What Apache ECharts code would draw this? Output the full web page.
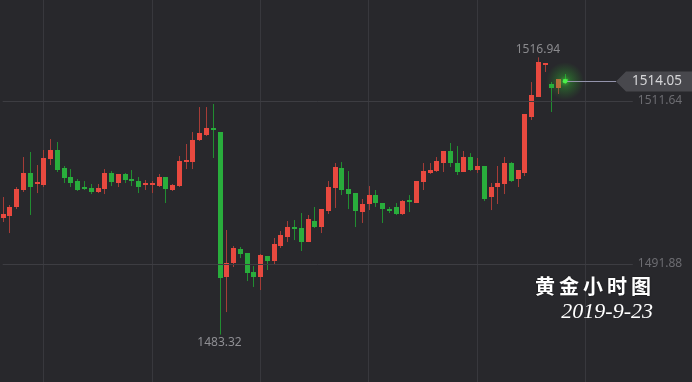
<!DOCTYPE html>
<html><head><meta charset="utf-8">
<script src="https://cdn.jsdelivr.net/npm/echarts@6/dist/echarts.min.js"></script>
<style>html,body{margin:0;padding:0;background:#28282c;}#c{width:692px;height:382px;}</style>
</head><body><div id="c"></div>
<script>
// ---- data (hourly gold candles) ----
const opens = [1497.45,1497.70,1498.79,1500.85,1502.91,1501.58,1501.45,1504.61,1505.70,1503.52,1502.42,1501.94,1501.21,1501.09,1500.61,1500.97,1502.91,1501.70,1502.79,1502.18,1501.94,1501.45,1501.45,1501.33,1502.42,1500.85,1501.33,1504.24,1504.24,1506.91,1507.52,1508.37,1507.88,1490.30,1492.00,1493.69,1493.21,1490.90,1490.30,1492.84,1492.24,1494.06,1495.15,1496.36,1496.24,1494.54,1497.09,1496.36,1498.30,1501.09,1503.52,1500.97,1500.48,1498.18,1499.15,1500.24,1499.27,1498.54,1498.79,1497.94,1499.64,1499.27,1501.82,1502.91,1503.15,1504.12,1505.58,1504.12,1503.03,1504.85,1503.27,1503.76,1500.00,1501.21,1501.58,1504.12,1502.18,1502.91,1509.70,1512.13,1516.13,1513.70,1513.22,1514.31];
const closes = [1497.94,1498.79,1500.97,1502.91,1501.21,1501.82,1504.73,1505.70,1503.27,1502.30,1501.70,1500.85,1500.97,1500.61,1501.09,1502.91,1501.82,1502.79,1502.06,1501.94,1501.21,1501.70,1501.70,1502.42,1500.97,1501.45,1504.36,1504.49,1506.91,1507.76,1508.37,1508.24,1490.18,1492.00,1493.82,1493.09,1490.78,1490.30,1492.97,1492.24,1494.30,1495.39,1496.36,1496.12,1494.54,1497.33,1496.36,1498.54,1501.21,1503.64,1500.85,1500.36,1498.30,1499.15,1500.24,1499.27,1498.54,1498.30,1497.94,1499.51,1499.39,1501.94,1503.15,1503.27,1504.36,1505.58,1504.12,1503.03,1504.85,1503.27,1503.76,1499.76,1501.21,1501.70,1504.12,1501.94,1503.27,1510.06,1512.37,1516.37,1516.25,1513.22,1514.31,1514.05];
const lows = [1496.97,1495.63,1498.54,1500.61,1497.82,1500.48,1501.21,1503.88,1503.03,1501.70,1501.21,1500.73,1500.85,1500.36,1500.48,1500.36,1501.33,1501.21,1501.70,1501.33,1500.48,1500.85,1500.48,1501.21,1499.27,1500.73,1501.21,1503.39,1503.39,1506.79,1507.40,1504.73,1483.32,1486.05,1491.51,1492.60,1489.81,1489.09,1488.72,1491.15,1491.87,1493.82,1494.54,1494.78,1493.45,1494.54,1496.24,1495.63,1497.94,1498.67,1500.24,1498.54,1496.36,1496.85,1498.42,1498.79,1496.85,1498.06,1497.82,1497.82,1498.18,1499.27,1500.85,1502.79,1503.03,1503.03,1503.64,1502.67,1503.03,1503.15,1502.91,1499.51,1498.42,1499.15,1500.36,1501.82,1501.21,1502.55,1509.34,1512.13,1515.16,1510.31,1512.49,1513.70];
const highs = [1500.00,1499.03,1501.21,1504.85,1505.46,1503.88,1505.70,1507.03,1506.67,1503.76,1503.39,1502.18,1501.94,1501.58,1501.58,1503.39,1503.15,1502.79,1502.91,1503.27,1502.42,1502.06,1501.94,1502.79,1502.42,1501.58,1504.97,1506.43,1507.88,1510.91,1510.91,1511.28,1507.88,1496.00,1494.06,1493.94,1493.21,1491.63,1493.09,1492.84,1495.03,1495.88,1497.09,1497.21,1498.06,1497.82,1498.79,1498.54,1501.94,1504.12,1504.24,1503.15,1500.48,1499.76,1501.33,1500.85,1499.27,1498.79,1499.27,1499.64,1500.24,1501.94,1504.12,1504.12,1504.85,1505.58,1506.55,1506.18,1505.58,1505.33,1504.73,1503.76,1501.70,1503.76,1504.85,1504.24,1503.27,1510.06,1513.94,1516.94,1516.25,1513.94,1514.31,1514.91];
const yTicks = [1491.88, 1511.64];
const yRange = [1477.57, 1523.89];
const lastPrice = 1514.05;
const titleText = '黄金小时图';
const dateText = '2019-9-23';
const slotCount = 94; // hourly slots shown inside the plot

// hourly category labels
const categories = [];
(function(){
  const t0 = new Date(2019, 8, 18, 10, 0, 0).getTime();
  for (let i = 0; i < slotCount; i++) {
    const d = new Date(t0 + i * 3600000);
    categories.push((d.getMonth()+1) + '-' + d.getDate() + ' ' + String(d.getHours()).padStart(2,'0') + ':00');
  }
})();

const candles = opens.map((o, i) => [i, o, closes[i], lows[i], highs[i]]);
let hiIdx = 0, loIdx = 0;
highs.forEach((v, i) => { if (v > highs[hiIdx]) hiIdx = i; });
lows.forEach((v, i) => { if (v < lows[loIdx]) loIdx = i; });
const lastIdx = candles.length - 1;

const UP = '#e8493f', UP_WICK = '#a53c37';
const DOWN = '#29ad3c', DOWN_WICK = '#218d31';
const BG = '#28282c';

const chart = echarts.init(document.getElementById('c'), null, {renderer: 'canvas'});

function renderCandle(params, api) {
  const x = api.value(0);
  const o = api.value(1), c = api.value(2), l = api.value(3), h = api.value(4);
  const pO = api.coord([x, o]), pC = api.coord([x, c]);
  const pL = api.coord([x, l]), pH = api.coord([x, h]);
  const cx = Math.round(pO[0]);
  const up = c >= o;
  const top = Math.round(Math.min(pO[1], pC[1]));
  const bot = Math.round(Math.max(pO[1], pC[1]));
  const hgt = Math.max(2, bot - top);
  return {
    type: 'group',
    children: [
      { type: 'line', shape: { x1: cx + 0.5, y1: pH[1], x2: cx + 0.5, y2: pL[1] },
        style: { stroke: up ? UP_WICK : DOWN_WICK, lineWidth: 1 } },
      { type: 'rect', shape: { x: cx - 2, y: top, width: 5, height: hgt },
        style: { fill: up ? UP : DOWN } }
    ]
  };
}

chart.setOption({
  backgroundColor: BG,
  animation: false,
  grid: { left: 2.7, right: 59.2, top: 0, bottom: 0, containLabel: false },
  xAxis: {
    type: 'category', data: categories, boundaryGap: false,
    axisLine: { show: false }, axisTick: { show: false }, axisLabel: { show: false },
    splitLine: { show: true, interval: (i) => (i - 6) % 16 === 0,
      lineStyle: { color: '#38383d', width: 1 } }
  },
  yAxis: {
    type: 'value', min: yRange[0], max: yRange[1],
    axisLine: { show: false }, axisTick: { show: false },
    splitLine: { show: false }, axisLabel: { show: false }
  },
  series: [
    { type: 'custom', renderItem: renderCandle, data: candles,
      encode: { x: 0, y: [1, 2, 3, 4] }, z: 2,
      markLine: { silent: true, symbol: ['none', 'none'], animation: false,
        lineStyle: { color: '#3d3d42', width: 1, type: 'solid' },
        label: { show: true, position: 'end', distance: 5, color: '#6c6c71', fontSize: 12,
          fontFamily: 'Noto Sans, sans-serif', formatter: (p) => p.value.toFixed(2) },
        data: yTicks.map(v => ({ yAxis: v })) } },
    { type: 'scatter', data: [[lastIdx, lastPrice]], symbolSize: 38, z: 5, silent: true,
      itemStyle: { color: { type: 'radial', x: 0.5, y: 0.5, r: 0.5,
        colorStops: [{ offset: 0, color: 'rgba(80,240,60,0.8)' },
                     { offset: 0.3, color: 'rgba(50,210,50,0.4)' },
                     { offset: 1, color: 'rgba(40,180,40,0)' }] } } },
    { type: 'scatter', data: [[hiIdx, highs[hiIdx]]], symbolSize: 1, z: 6,
      itemStyle: { color: 'rgba(0,0,0,0)' },
      label: { show: true, position: 'top', distance: 1, color: '#a2a2a6', fontSize: 12,
        fontFamily: 'Noto Sans, sans-serif', formatter: (p) => p.value[1].toFixed(2) } },
    { type: 'scatter', data: [[loIdx, lows[loIdx]]], symbolSize: 1, z: 6,
      itemStyle: { color: 'rgba(0,0,0,0)' },
      label: { show: true, position: 'bottom', distance: 1, color: '#a8a8ac', fontSize: 12,
        fontFamily: 'Noto Sans, sans-serif', formatter: (p) => p.value[1].toFixed(2) } }
  ]
});

// last-price annotation, placed with the chart's own scale
const lp = chart.convertToPixel({ gridIndex: 0 }, [lastIdx, lastPrice]);
const W = chart.getWidth();
const py = Math.round(lp[1]) + 0.5;
const tipX = W - 76, boxX = W - 66;
const gfx = [
  { type: 'line', z: 10, shape: { x1: lp[0], y1: py, x2: tipX, y2: py },
    style: { stroke: '#9494ac', lineWidth: 1 } },
  { type: 'polygon', z: 10, shape: { points: [[tipX, py], [boxX, py - 10], [W, py - 10], [W, py + 10], [boxX, py + 10]] },
    style: { fill: '#48484d' } },
  { type: 'text', z: 11, x: W - 10, y: py, style: { text: lastPrice.toFixed(2), fill: '#d6d6d8',
    fontSize: 13.5, fontFamily: 'Noto Sans, sans-serif', align: 'right', verticalAlign: 'middle' } },
  { type: 'circle', z: 11, shape: { cx: lp[0], cy: lp[1], r: 2.2 }, style: { fill: '#4cf04a' } }
];
titleText.split('').forEach((ch, i) => {
  gfx.push({ type: 'text', z: 12, x: 545 + i * 24, y: 286, style: { text: ch, fill: '#ffffff',
    fontSize: 20, fontWeight: 'bold', fontFamily: 'Noto Sans CJK SC', align: 'center', verticalAlign: 'middle',
    textShadowColor: 'rgba(0,0,0,0.6)', textShadowBlur: 2 } });
});
gfx.push({ type: 'text', z: 12, x: 653, y: 312, style: { text: dateText, fill: '#ffffff',
  fontSize: 22, fontStyle: 'italic', fontFamily: 'Liberation Serif, serif', align: 'right', verticalAlign: 'middle' } });
chart.setOption({ graphic: gfx });
</script>
</body></html>
